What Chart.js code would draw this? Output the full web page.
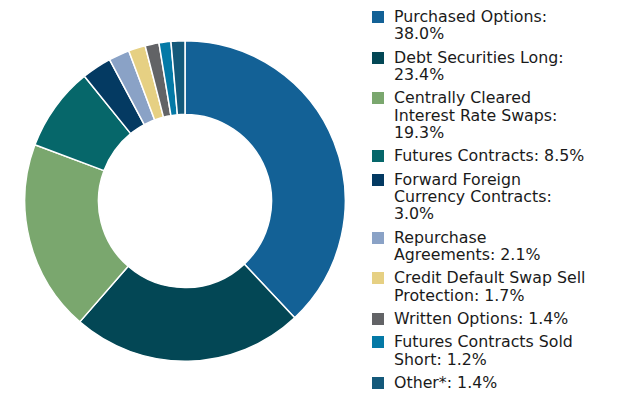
<!DOCTYPE html>
<html>
<head>
<meta charset="utf-8">
<script src="https://cdn.jsdelivr.net/npm/chart.js@4/dist/chart.umd.min.js"></script>
<style>
	html, body { margin: 0; padding: 0; background: #fff; }
	body { width: 627px; height: 404px; position: relative; overflow: hidden; font-family: "DejaVu Sans", sans-serif; }
	#chart-box { position: absolute; left: 24px; top: 40px; width: 322px; height: 322px; }
	#legend { position: absolute; left: 372px; top: 8px; width: 250px; margin: 0; padding: 0; list-style: none; }
	#legend li { display: flex; align-items: flex-start; margin-bottom: 5.85px; }
	#legend .box { flex: 0 0 12px; height: 12px; margin-top: 3px; margin-right: 10px; }
	#legend .txt { font-size: 15.8px; line-height: 17.4px; color: #1a1a1a; white-space: nowrap; }
</style>
</head>
<body>
<div id="chart-box"><canvas id="holdings-chart"></canvas></div>
<ul id="legend"></ul>
<script>
const categories = [
	"Purchased Options",
	"Debt Securities Long",
	"Centrally Cleared Interest Rate Swaps",
	"Futures Contracts",
	"Forward Foreign Currency Contracts",
	"Repurchase Agreements",
	"Credit Default Swap Sell Protection",
	"Written Options",
	"Futures Contracts Sold Short",
	"Other*",
];
const percentages = [38.0, 23.4, 19.3, 8.5, 3.0, 2.1, 1.7, 1.4, 1.2, 1.4];
const sliceColors = [
	"#136196", "#034755", "#7aa76e", "#06676a", "#043a62",
	"#8aa2c6", "#e6d083", "#626366", "#0479a6", "#14597a",
];
// legend lines break after these word counts (as wrapped in the original)
const legendBreaks = [[2], [3], [2, 5], [], [2, 4], [1], [4], [], [3], []];

function wrapLabel(text, breaks) {
	const words = text.split(" ");
	const lines = [];
	let start = 0;
	breaks.forEach((end) => {
		lines.push(words.slice(start, end).join(" "));
		start = end;
	});
	lines.push(words.slice(start).join(" "));
	return lines;
}

function buildLegend() {
	const list = document.getElementById("legend");
	categories.forEach((name, i) => {
		const item = document.createElement("li");
		const box = document.createElement("span");
		box.className = "box";
		box.style.background = sliceColors[i];
		const txt = document.createElement("span");
		txt.className = "txt";
		const lines = wrapLabel(`${name}: ${percentages[i].toFixed(1)}%`, legendBreaks[i]);
		lines.forEach((line, j) => {
			if (j > 0) {
				txt.appendChild(document.createElement("br"));
			}
			txt.appendChild(document.createTextNode(line));
		});
		item.appendChild(box);
		item.appendChild(txt);
		list.appendChild(item);
	});
}

buildLegend();

new Chart(document.getElementById("holdings-chart"), {
	type: "doughnut",
	data: {
		labels: categories,
		datasets: [{
			data: percentages,
			backgroundColor: sliceColors,
			borderColor: "#ffffff",
			borderWidth: 1.5,
		}],
	},
	options: {
		responsive: true,
		maintainAspectRatio: false,
		animation: false,
		cutout: "54%",
		layout: { padding: 0 },
		plugins: {
			legend: { display: false },
			tooltip: { enabled: false },
		},
	},
});
</script>
</body>
</html>
